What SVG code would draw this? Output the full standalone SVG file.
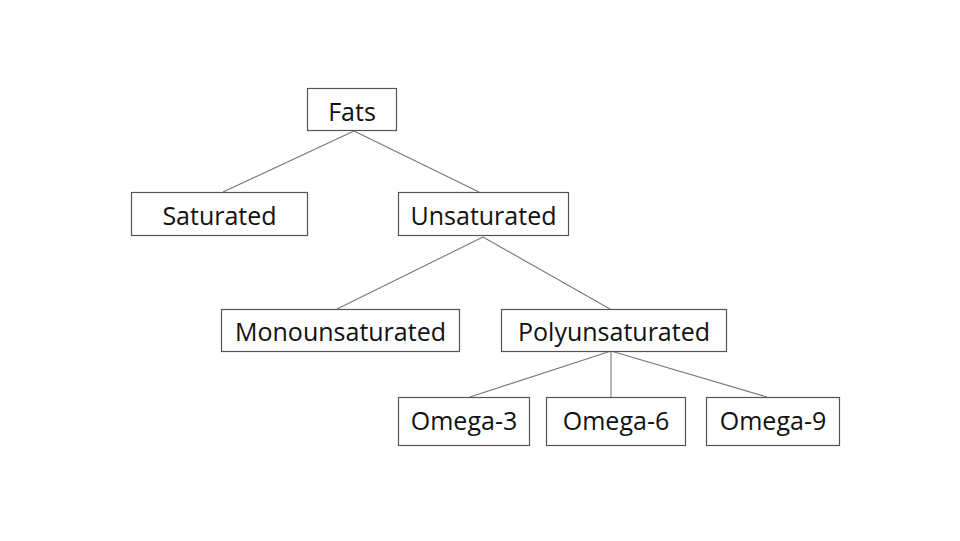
<svg xmlns="http://www.w3.org/2000/svg" width="960" height="541" viewBox="0 0 960 541">
<style>
.box{fill:#fff;stroke:#555;stroke-width:1.2}
.lbl{font-family:"Open Sans",Calibri,sans-serif;font-size:25px;fill:#111;text-anchor:middle}
.con line{stroke:#777;stroke-width:1.1}
</style>
<rect width="960" height="541" fill="#fff"/>
<g class="con" id="connectors">
<line x1="354" y1="131" x2="223" y2="192"/>
<line x1="354" y1="131" x2="479" y2="192"/>
<line x1="483" y1="237" x2="337" y2="309"/>
<line x1="483" y1="237" x2="610" y2="309"/>
<line x1="611" y1="351" x2="470" y2="397"/>
<line x1="611" y1="351" x2="611" y2="397"/>
<line x1="611" y1="351" x2="767" y2="397"/>
</g>
<g id="fats"><rect class="box" x="307.5" y="88.5" width="89" height="42"/><text class="lbl" x="352" y="121">Fats</text></g>
<g id="saturated"><rect class="box" x="131.5" y="192.5" width="176" height="43"/><text class="lbl" x="219.5" y="225">Saturated</text></g>
<g id="unsaturated"><rect class="box" x="398.5" y="192.5" width="170" height="43"/><text class="lbl" x="483.5" y="225">Unsaturated</text></g>
<g id="mono"><rect class="box" x="221.5" y="309.5" width="238" height="42"/><text class="lbl" x="340.5" y="341">Monounsaturated</text></g>
<g id="poly"><rect class="box" x="501.5" y="309.5" width="225" height="42"/><text class="lbl" x="614" y="341">Polyunsaturated</text></g>
<g id="omega3"><rect class="box" x="398.5" y="397.5" width="131" height="48"/><text class="lbl" x="464" y="430">Omega-3</text></g>
<g id="omega6"><rect class="box" x="546.5" y="397.5" width="139" height="48"/><text class="lbl" x="616" y="430">Omega-6</text></g>
<g id="omega9"><rect class="box" x="706.5" y="397.5" width="133" height="48"/><text class="lbl" x="773" y="430">Omega-9</text></g>
</svg>
